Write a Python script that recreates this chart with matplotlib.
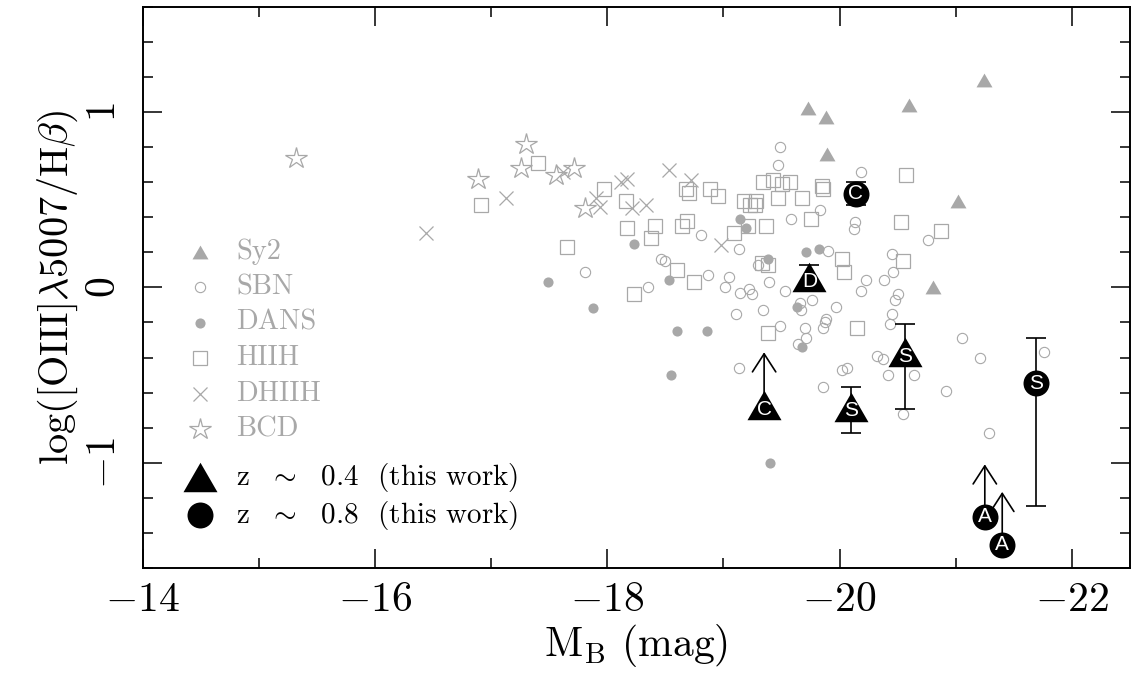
import numpy as np
import matplotlib
matplotlib.use("Agg")
import matplotlib.pyplot as plt
from matplotlib.ticker import MultipleLocator, FixedLocator

plt.rcParams['font.family'] = 'serif'
plt.rcParams['font.serif'] = ['cmr10']
plt.rcParams['mathtext.fontset'] = 'cm'
plt.rcParams['axes.formatter.use_mathtext'] = True

# ---- literature samples (M_B, log [OIII]/Hb) ----
sy2_mb = [-19.73, -19.88, -19.89, -20.60, -21.24, -21.02, -20.80]
sy2_o3 = [1.02, 0.97, 0.76, 1.04, 1.18, 0.49, 0.00]

sbn_mb = [-17.81, -19.49, -19.47, -20.18, -19.83, -19.58, -18.81, -19.13, -20.13, -20.12,
          -19.90, -18.46, -18.50, -19.30, -18.87, -18.35, -19.05, -19.01, -19.14, -19.22,
          -19.25, -19.39, -19.53, -19.76, -19.11, -19.34, -19.67, -19.97, -20.23, -20.18,
          -20.38, -20.45, -19.88, -19.66, -19.49, -19.70, -19.71, -19.64, -19.87, -19.86,
          -19.13, -19.86, -20.02, -20.06, -20.50, -20.48, -20.45, -20.43, -20.32, -20.37,
          -20.42, -20.64, -20.55, -20.92, -21.05, -21.21, -21.29, -21.76, -20.76, -20.46]
sbn_o3 = [0.09, 0.80, 0.70, 0.66, 0.44, 0.39, 0.30, 0.22, 0.37, 0.33,
          0.21, 0.16, 0.15, 0.13, 0.07, 0.00, 0.06, 0.00, -0.03, -0.01,
          -0.04, 0.03, -0.02, -0.07, -0.15, -0.13, -0.13, -0.11, 0.04, -0.02,
          0.04, 0.19, -0.18, -0.09, -0.22, -0.23, -0.29, -0.32, -0.20, -0.23,
          -0.46, -0.57, -0.47, -0.46, -0.04, -0.07, -0.15, -0.21, -0.39, -0.41,
          -0.50, -0.50, -0.72, -0.59, -0.29, -0.40, -0.83, -0.37, 0.27, 0.09]

dans_mb = [-17.49, -18.23, -17.88, -18.53, -19.14, -19.19, -19.38, -19.71, -19.82, -19.63,
           -18.60, -18.86, -18.55, -19.68, -19.40]
dans_o3 = [0.03, 0.25, -0.12, 0.04, 0.39, 0.34, 0.16, 0.20, 0.22, -0.11,
           -0.25, -0.25, -0.50, -0.34, -1.00]

hiih_mb = [-16.91, -17.40, -17.65, -17.97, -18.16, -18.17, -18.23, -18.41, -18.38, -18.68,
           -18.70, -18.64, -18.69, -18.60, -18.75, -18.88, -18.95, -19.18, -19.23, -19.27,
           -19.28, -19.09, -19.21, -19.37, -19.34, -19.43, -19.50, -19.57, -19.47, -19.68,
           -19.85, -19.86, -19.75, -19.33, -19.38, -20.02, -20.04, -19.38, -20.57, -20.53,
           -20.87, -20.55, -20.15]
hiih_o3 = [0.47, 0.71, 0.23, 0.56, 0.49, 0.34, -0.04, 0.35, 0.28, 0.56,
           0.54, 0.35, 0.38, 0.10, 0.03, 0.56, 0.52, 0.49, 0.47, 0.47,
           0.49, 0.31, 0.35, 0.35, 0.60, 0.61, 0.59, 0.60, 0.51, 0.51,
           0.58, 0.56, 0.39, 0.14, 0.13, 0.16, 0.09, -0.26, 0.64, 0.37,
           0.32, 0.15, -0.23]

dhiih_mb = [-16.44, -17.13, -17.90, -17.94, -18.12, -18.17, -18.21, -17.62, -18.53, -18.72,
            -18.33, -18.98]
dhiih_o3 = [0.31, 0.51, 0.51, 0.46, 0.60, 0.62, 0.45, 0.66, 0.67, 0.61,
            0.47, 0.24]

bcd_mb = [-15.32, -16.89, -17.30, -17.26, -17.56, -17.71, -17.81]
bcd_o3 = [0.74, 0.62, 0.82, 0.68, 0.64, 0.68, 0.45]

# ---- this work ----
z04_mb = [-19.35, -19.74, -20.10, -20.56]
z04_o3 = [-0.67, 0.06, -0.68, -0.37]
z04_err_lo = [np.nan, 0.065, 0.15, 0.325]
z04_err_hi = [np.nan, 0.065, 0.11, 0.16]
z04_lim = [0.3, 0, 0, 0]          # lower limits (arrow length)
z04_tag = ['C', 'D', 'S', 'S']

z08_mb = [-20.14, -21.69, -21.25, -21.40]
z08_o3 = [0.535, -0.547, -1.309, -1.466]
z08_err_lo = [0.065, 0.697, np.nan, np.nan]
z08_err_hi = [0.065, 0.256, np.nan, np.nan]
z08_lim = [0, 0, 0.3, 0.3]
z08_tag = ['C', 'S', 'A', 'A']

gray = '#a8a8a8'
tri = [(0, 0.866), (-1, -0.866), (1, -0.866)]

fig = plt.figure(figsize=(11.35, 6.87), dpi=100)
ax = fig.add_axes([0.1257, 0.1732, 0.8699, 0.8170])

ax.plot(sy2_mb, sy2_o3, ls='none', marker=tri, ms=11.5, color=gray, mec=gray, mew=0)
ax.plot(sbn_mb, sbn_o3, ls='none', marker='o', ms=7.4, mfc='none', mec=gray, mew=0.8)
ax.plot(dans_mb, dans_o3, ls='none', marker='o', ms=7.3, color=gray, mew=0)
ax.plot(hiih_mb, hiih_o3, ls='none', marker='s', ms=10, mfc='none', mec=gray, mew=0.9)
ax.plot(dhiih_mb, dhiih_o3, ls='none', marker='x', ms=9.5, mec=gray, mew=0.9)
ax.plot(bcd_mb, bcd_o3, ls='none', marker='*', ms=16, mfc='none', mec=gray, mew=0.9)


def this_work(mb, o3, lo, hi, lim, tags, marker, ms, dy):
    ax.errorbar(mb, o3, yerr=[lo, hi], fmt='none', ecolor='k', elinewidth=1.2,
                capsize=7.5, capthick=1.2, zorder=5)
    for x, y, L in zip(mb, o3, lim):
        if L:
            ax.annotate('', xy=(x, y + L), xytext=(x, y),
                        arrowprops=dict(arrowstyle='->,head_length=0.65,head_width=0.42',
                                        color='k', lw=1.2, shrinkA=0, shrinkB=0,
                                        mutation_scale=20), zorder=5)
    ax.plot(mb, o3, ls='none', marker=marker, ms=ms, color='k', mew=0, zorder=6)
    for x, y, t in zip(mb, o3, tags):
        ax.annotate(t, (x, y), xytext=(0, dy), textcoords='offset points',
                    ha='center', va='center', color='white', fontsize=15,
                    family='Liberation Sans', zorder=7)


this_work(z04_mb, z04_o3, z04_err_lo, z04_err_hi, z04_lim, z04_tag, tri, 24.5, -3)
this_work(z08_mb, z08_o3, z08_err_lo, z08_err_hi, z08_lim, z08_tag, 'o', 18.7, 0)

# legend (drawn by hand to mimic the original layout)
leg_gray = [('Sy2', dict(marker=tri, ms=11.5, color=gray, mew=0)),
            ('SBN', dict(marker='o', ms=7.4, mfc='none', mec=gray, mew=0.8)),
            ('DANS', dict(marker='o', ms=7.3, color=gray, mew=0)),
            ('HIIH', dict(marker='s', ms=10, mfc='none', mec=gray, mew=0.9)),
            ('DHIIH', dict(marker='x', ms=9.5, mec=gray, mew=0.9)),
            ('BCD', dict(marker='*', ms=16, mfc='none', mec=gray, mew=0.9))]
for i, (lab, kw) in enumerate(leg_gray):
    yy = 0.5635 - i * 0.0633
    ax.plot([0.058], [yy], transform=ax.transAxes, ls='none', **kw)
    ax.text(0.0945, yy, lab, transform=ax.transAxes, color=gray, fontsize=20.5,
            va='center', ha='left')

leg_black = [(r'z  $\sim$  0.4  (this work)', dict(marker=tri, ms=24.5, color='k', mew=0)),
             (r'z  $\sim$  0.8  (this work)', dict(marker='o', ms=18.7, color='k', mew=0))]
for i, (lab, kw) in enumerate(leg_black):
    yy = 0.162 - i * 0.0676
    ax.plot([0.058], [yy], transform=ax.transAxes, ls='none', **kw)
    ax.text(0.0945, yy, lab, transform=ax.transAxes, color='k', fontsize=21,
            va='center', ha='left')

ax.set_xlim(-14, -22.5)
ax.set_ylim(-1.6, 1.6)
ax.xaxis.set_major_locator(FixedLocator([-14, -16, -18, -20, -22]))
ax.xaxis.set_minor_locator(MultipleLocator(1))
ax.yaxis.set_major_locator(MultipleLocator(1))
ax.yaxis.set_minor_locator(MultipleLocator(0.2))
ax.tick_params(which='both', direction='in', top=True, right=True, width=1.1, labelsize=30)
ax.tick_params(which='major', length=13.5)
ax.tick_params(which='minor', length=7)
ax.tick_params(axis='x', which='major', pad=10)
ax.tick_params(axis='y', which='major', pad=14, labelrotation=90)
for lbl in ax.get_yticklabels():
    lbl.set_va('center')
for sp in ax.spines.values():
    sp.set_linewidth(1.4)

ax.set_xlabel(r'$\mathrm{M_B}$ (mag)', fontsize=30, labelpad=2)
ax.set_ylabel(r'$\log([\mathrm{OIII}]\lambda5007/\mathrm{H}\beta)$', fontsize=29, labelpad=4)

fig.savefig('out.png', dpi=100)
